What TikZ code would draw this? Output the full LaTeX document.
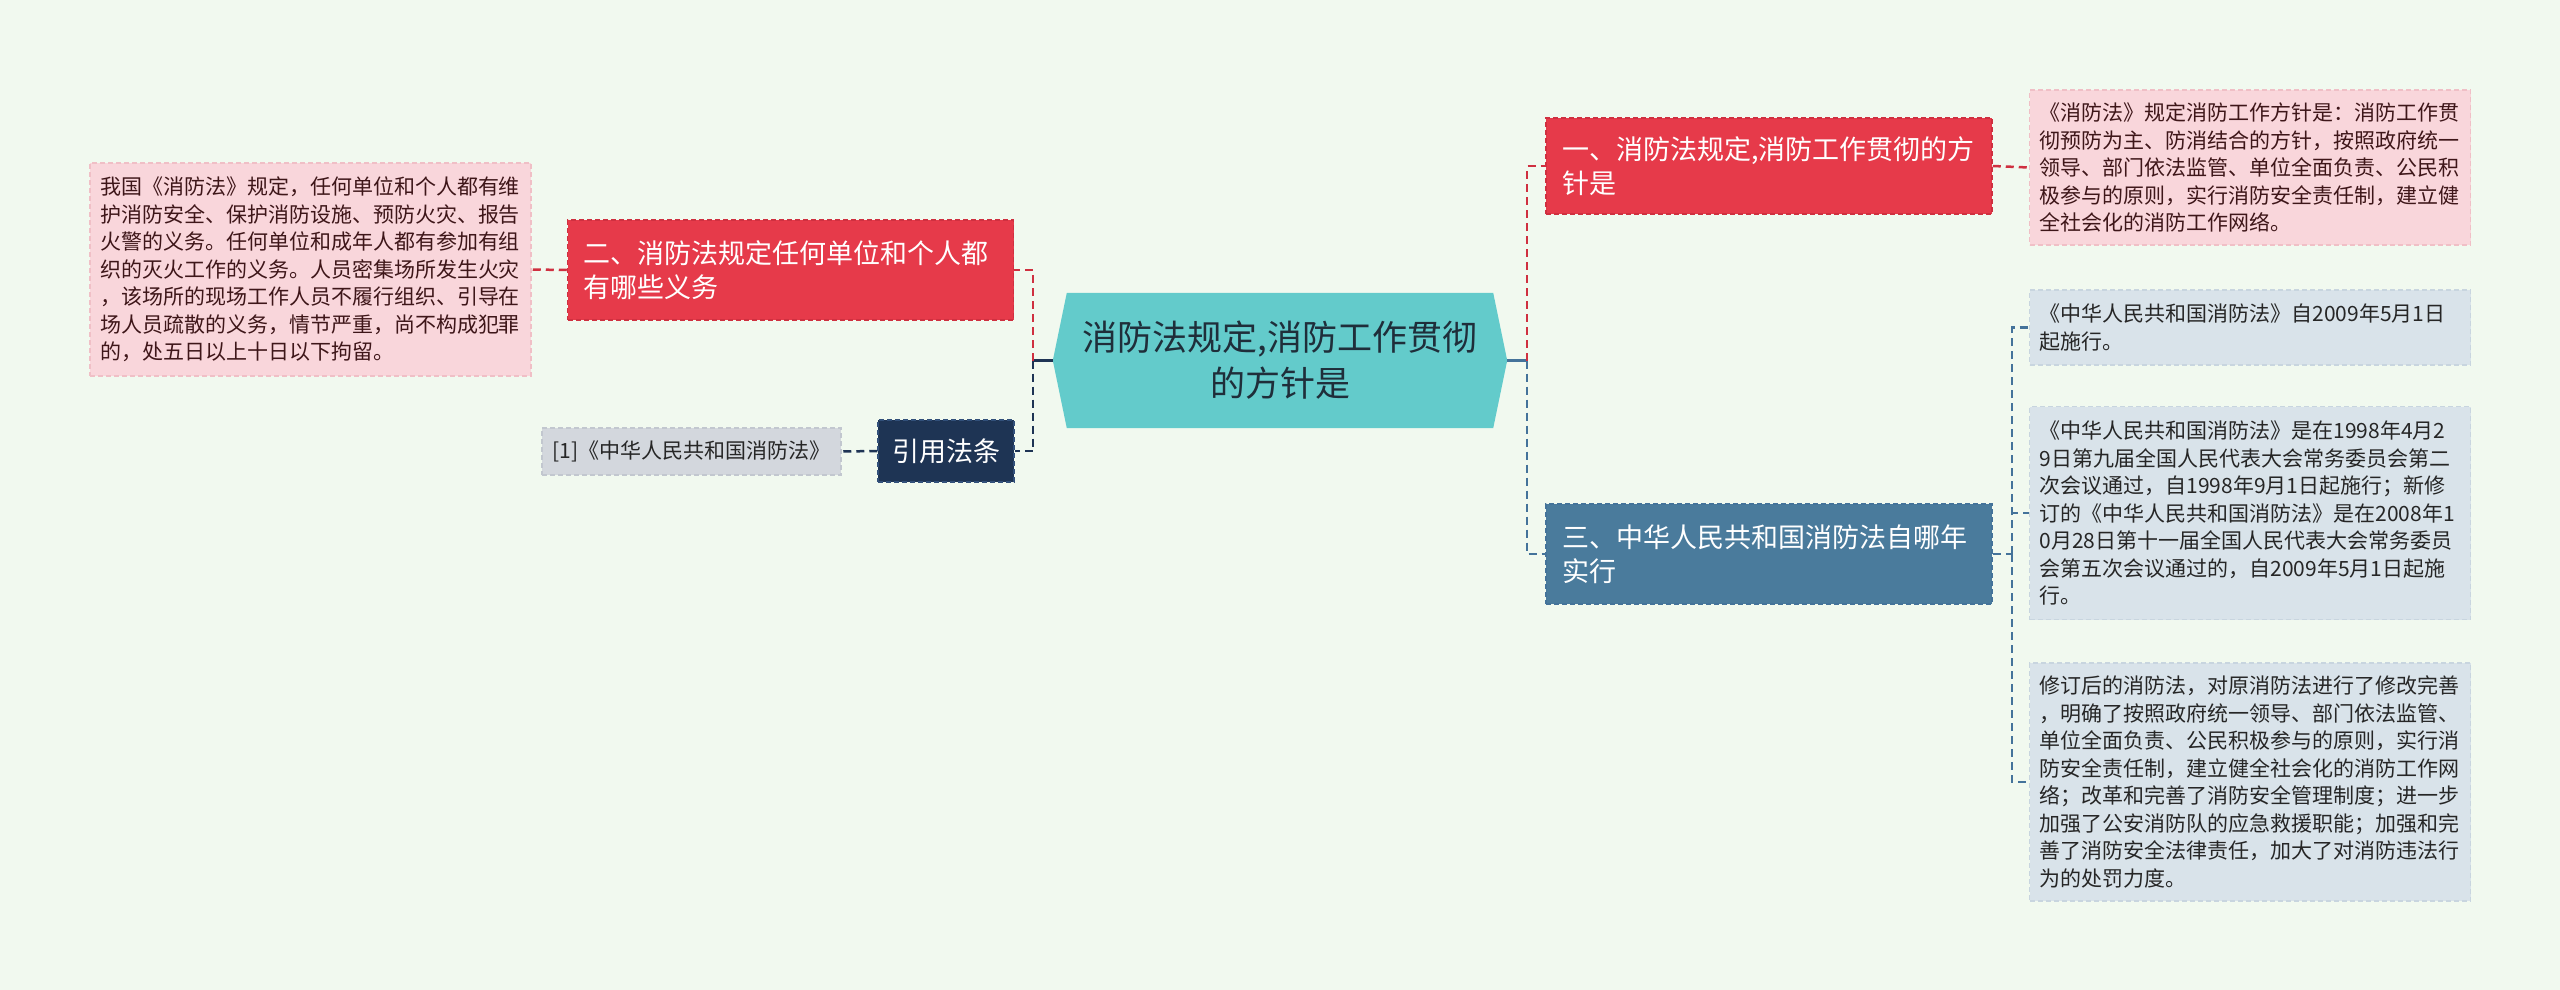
\documentclass[tikz,border=0pt]{standalone}
\usepackage{fontspec}
\setmainfont{Noto Sans CJK SC}
\usetikzlibrary{positioning, backgrounds}

\definecolor{pagebg}{HTML}{F1F9EF}
\definecolor{hubfill}{HTML}{63CBCB}
\definecolor{hubtext}{HTML}{1F2E3A}
\definecolor{redfill}{HTML}{E63A4A}
\definecolor{redline}{HTML}{CF3040}
\definecolor{pinkfill}{HTML}{F9D6DB}
\definecolor{pinkline}{HTML}{F0BFC6}
\definecolor{pinktext}{HTML}{3E1619}
\definecolor{steelfill}{HTML}{4A7B9C}
\definecolor{steelline}{HTML}{44739A}
\definecolor{greyfill}{HTML}{D9E3EA}
\definecolor{greyline}{HTML}{C8D5DF}
\definecolor{navyfill}{HTML}{1E3454}
\definecolor{navyline}{HTML}{32507A}
\definecolor{citefill}{HTML}{D3D7DD}
\definecolor{citeline}{HTML}{C2C7CF}

\begin{document}
\begin{tikzpicture}[x=1pt, y=-1pt,
    box/.style={rectangle, line width=1.5pt, dash pattern=on 5pt off 3pt, inner ysep=0pt},
    topic/.style={box, inner xsep=16pt, text width=414pt, minimum height=#1, align=left, text=white,
        font=\fontsize{27pt}{34pt}\selectfont},
    note/.style={box, fill=pinkfill, draw=pinkline, inner xsep=10pt, text width=421pt, minimum height=#1,
        align=left, text=pinktext, font=\fontsize{21pt}{27.5pt}\selectfont},
    greynote/.style={note=#1, fill=greyfill, draw=greyline, text=black!85},
    link/.style={line width=2.5pt, dash pattern=on 8pt off 5pt},
    stub/.style={line width=3pt}]
    \useasboundingbox (0,0) rectangle (2560,990);

    % central topic
    \node[text=hubtext, align=center, minimum width=454pt, minimum height=135pt,
        font=\fontsize{35pt}{46pt}\selectfont] (hub) at (1280,360.5)
        {消防法规定,消防工作贯彻\\的方针是};

    % left branch
    \node[topic=100pt, fill=redfill, draw=redline] (two) at (790.5,270)
        {二、消防法规定任何单位和个人都\\有哪些义务};
    \node[note=213pt] (leftnote) at (310.5,269.5)
        {我国《消防法》规定，任何单位和个人都有维\\护消防安全、保护消防设施、预防火灾、报告\\火警的义务。任何单位和成年人都有参加有组\\织的灭火工作的义务。人员密集场所发生火灾\\，该场所的现场工作人员不履行组织、引导在\\场人员疏散的义务，情节严重，尚不构成犯罪\\的，处五日以上十日以下拘留。};
    \node[box, fill=navyfill, draw=navyline, text=white, minimum width=136pt, minimum height=62pt,
        font=\fontsize{27pt}{34pt}\selectfont] (cite) at (946,451) {引用法条};
    \node[box, fill=citefill, draw=citeline, text=black!85, minimum width=299pt, minimum height=47pt,
        font=\fontsize{21pt}{27.5pt}\selectfont] (ref) at (691.5,451.5) {[1]《中华人民共和国消防法》};

    % right branch
    \node[topic=96pt, fill=redfill, draw=redline] (one) at (1769,166)
        {一、消防法规定,消防工作贯彻的方\\针是};
    \node[note=155pt] (rightnote) at (2250,167.5)
        {《消防法》规定消防工作方针是：消防工作贯\\彻预防为主、防消结合的方针，按照政府统一\\领导、部门依法监管、单位全面负责、公民积\\极参与的原则，实行消防安全责任制，建立健\\全社会化的消防工作网络。};
    \node[topic=100pt, fill=steelfill, draw=steelline] (three) at (1769,554)
        {三、中华人民共和国消防法自哪年\\实行};
    \node[greynote=75pt] (g1) at (2250,327.5)
        {《中华人民共和国消防法》自2009年5月1日\\起施行。};
    \node[greynote=213pt] (g2) at (2250,513)
        {《中华人民共和国消防法》是在1998年4月2\\9日第九届全国人民代表大会常务委员会第二\\次会议通过，自1998年9月1日起施行；新修\\订的《中华人民共和国消防法》是在2008年1\\0月28日第十一届全国人民代表大会常务委员\\会第五次会议通过的，自2009年5月1日起施\\行。};
    \node[greynote=238pt] (g3) at (2250,782)
        {修订后的消防法，对原消防法进行了修改完善\\，明确了按照政府统一领导、部门依法监管、\\单位全面负责、公民积极参与的原则，实行消\\防安全责任制，建立健全社会化的消防工作网\\络；改革和完善了消防安全管理制度；进一步\\加强了公安消防队的应急救援职能；加强和完\\善了消防安全法律责任，加大了对消防违法行\\为的处罚力度。};

    % connectors
    \coordinate (lj) at (1033,360.5);
    \coordinate (rj) at (1527,360.5);
    \coordinate (tj) at (2012,554);
    \draw[stub, navyfill] (hub.west) -- (lj);
    \draw[link, redline] (lj) |- (two.east);
    \draw[link, navyfill] (lj) |- (cite.east);
    \draw[link, redline] (two.west) -- (leftnote.east);
    \draw[link, navyfill] (cite.west) -- (ref.east);
    \draw[stub, steelline] (hub.east) -- (rj);
    \draw[link, redline] (rj) |- (one.west);
    \draw[link, steelline] (rj) |- (three.west);
    \draw[link, redline] (one.east) -- (rightnote.west);
    \draw[link, steelline] (three.east) -- (tj);
    \foreach \g in {g1, g2, g3}
        \draw[link, steelline] (tj) |- (\g.west);

    \begin{scope}[on background layer]
        \fill[pagebg] (0,0) rectangle (2560,990);
        \fill[hubfill] (hub.west) -- ([xshift=14pt]hub.north west) -- ([xshift=-14pt]hub.north east)
            -- (hub.east) -- ([xshift=-14pt]hub.south east) -- ([xshift=14pt]hub.south west) -- cycle;
    \end{scope}
\end{tikzpicture}
\end{document}
